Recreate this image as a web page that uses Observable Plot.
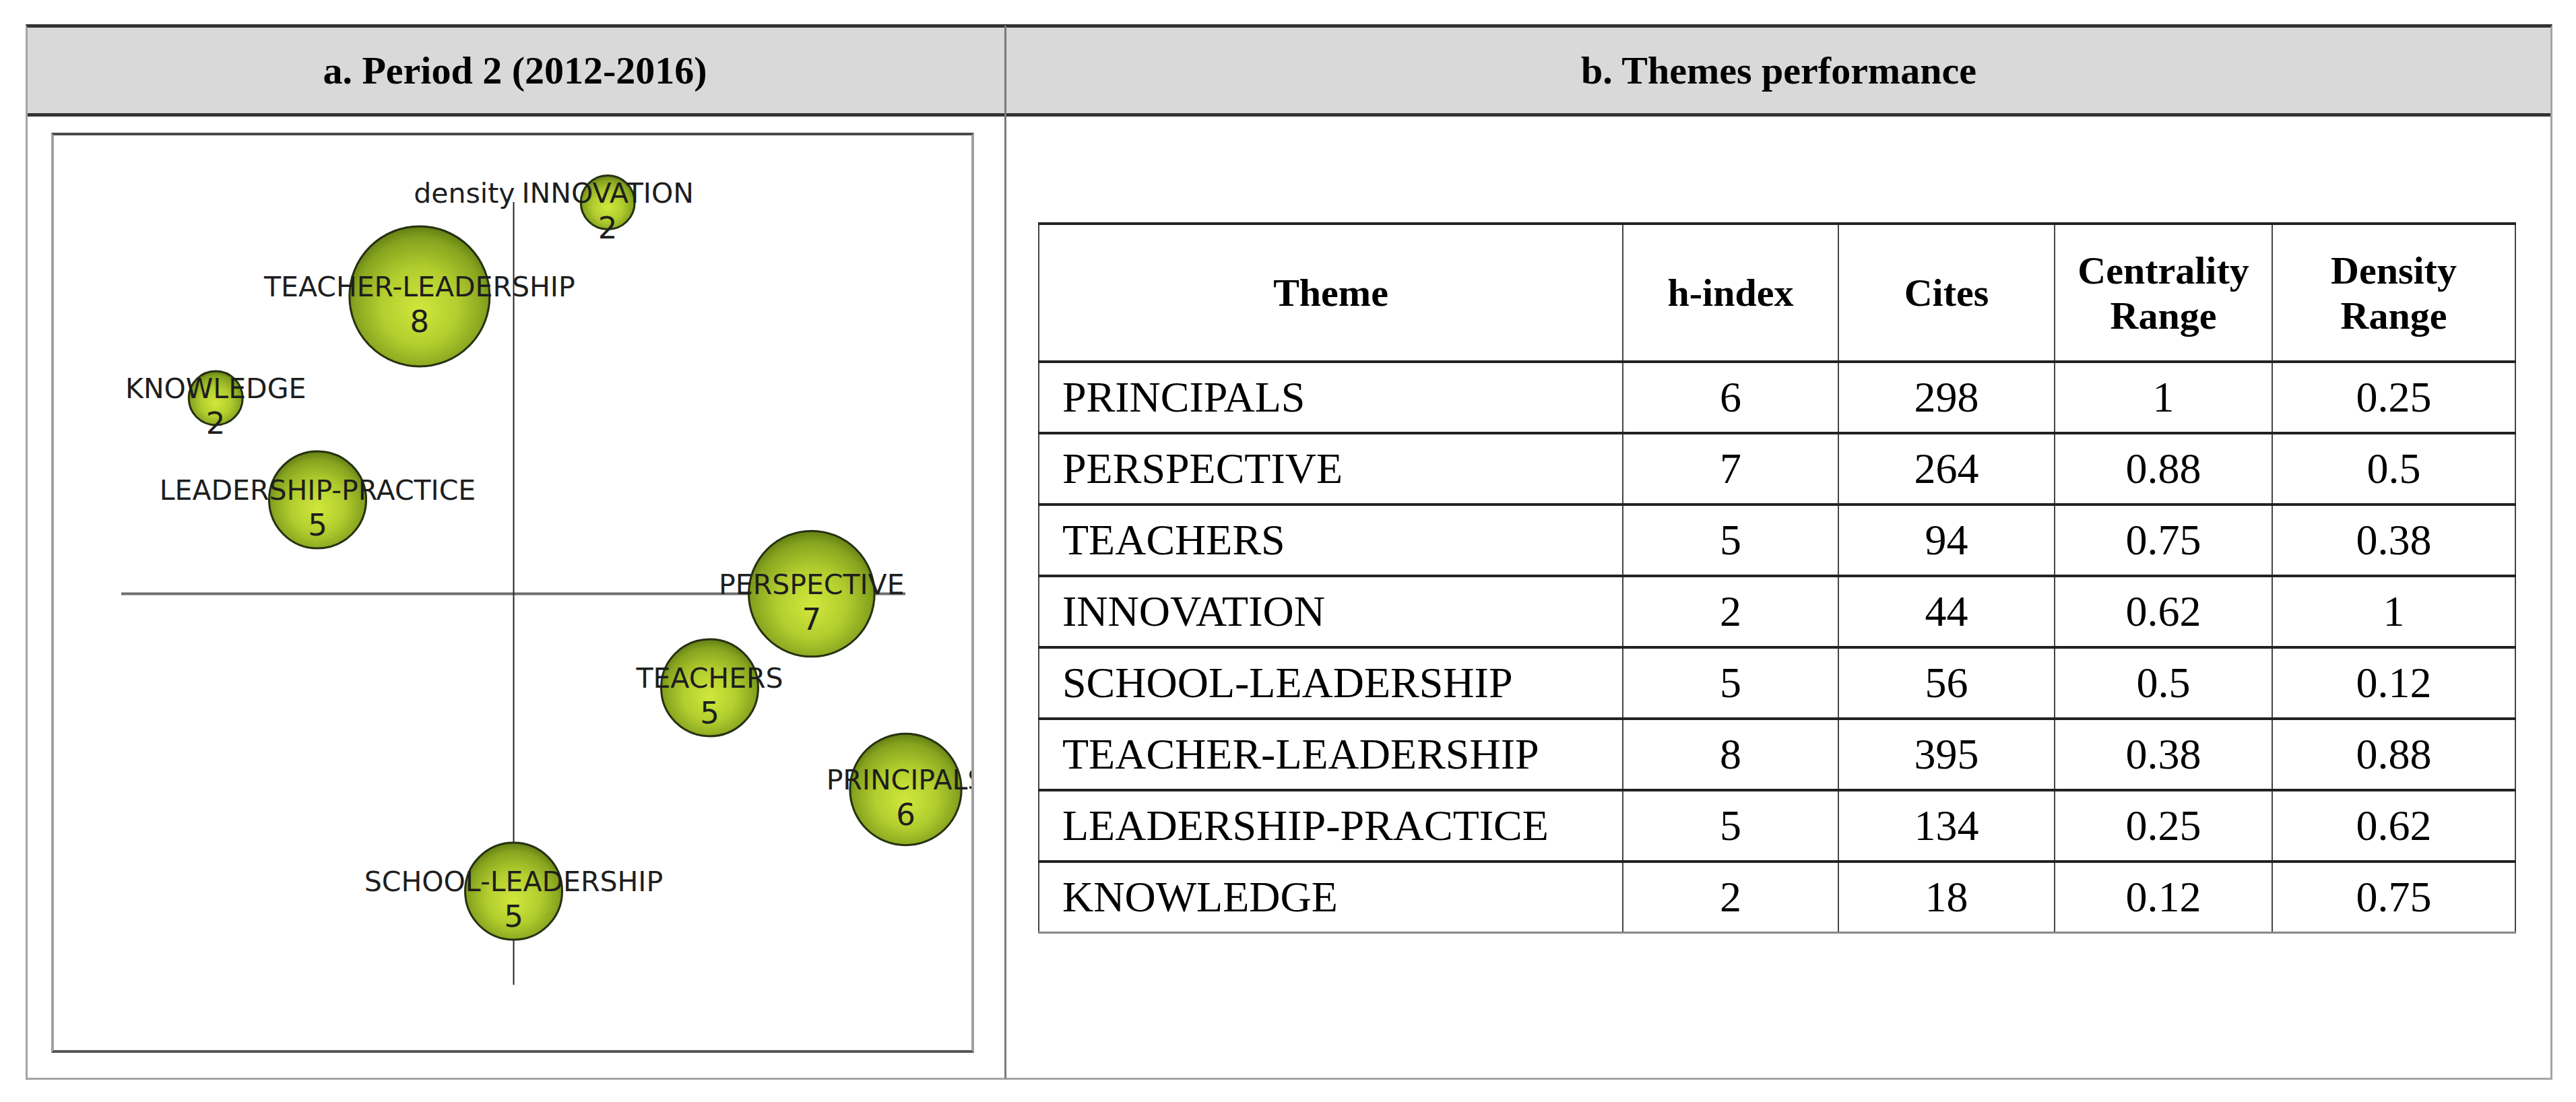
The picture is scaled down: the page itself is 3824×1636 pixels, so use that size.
<!DOCTYPE html>
<html><head><meta charset="utf-8">
<script src="https://cdn.jsdelivr.net/npm/d3@7"></script>
<script src="https://cdn.jsdelivr.net/npm/@observablehq/plot@0.6"></script>
<style>
html,body{margin:0;padding:0;background:#fff;}
body{width:3824px;height:1636px;position:relative;overflow:hidden;}
.abs{position:absolute;box-sizing:border-box;}
#band{left:38px;top:40px;width:3751px;height:133px;background:#d9d9d9;border-bottom:5px solid #333;}
#frame{left:38px;top:36px;width:3751px;height:1567px;border:3px solid #a4a4a4;border-top:5px solid #333;}
#divider{left:1491px;top:38px;width:3px;height:1563px;background:#7a7a7a;}
.ptitle{font-family:"Liberation Serif","Times New Roman",serif;font-weight:bold;font-size:58px;top:40px;height:128px;display:flex;align-items:center;justify-content:center;color:#000;}
#box{left:76px;top:197px;width:1370px;height:1366px;border-top:4px solid #4a4a4a;border-bottom:4px solid #555;border-left:4px solid #a0a0a0;border-right:4px solid #a0a0a0;background:#fff;overflow:hidden;}
#tablewrap{left:1541px;top:330px;}
table{border-collapse:collapse;table-layout:fixed;font-family:"Liberation Serif","Times New Roman",serif;color:#000;}
th,td{padding:0;border-left:2px solid #444;border-right:2px solid #444;border-top:4px solid #222;border-bottom:4px solid #222;}
th{font-weight:bold;font-size:58px;height:201px;text-align:center;white-space:pre-line;line-height:67px;vertical-align:middle;}
td{font-size:64px;height:102px;text-align:center;vertical-align:middle;}
td.first{text-align:left;padding-left:34px;}
tr:last-child td{border-bottom:3px solid #888;}
</style>
</head><body>
<div id="band" class="abs"></div>
<div id="frame" class="abs"></div>
<div id="divider" class="abs"></div>
<div class="abs ptitle" style="left:38px;width:1453px;">a. Period 2 (2012-2016)</div>
<div class="abs ptitle" style="left:1494px;width:2293px;">b. Themes performance</div>
<div id="box" class="abs"></div>
<div id="tablewrap" class="abs"></div>
<script>
// ---- data ----
const themes = ["PRINCIPALS","PERSPECTIVE","TEACHERS","INNOVATION","SCHOOL-LEADERSHIP","TEACHER-LEADERSHIP","LEADERSHIP-PRACTICE","KNOWLEDGE"];
const hIndex = [6,7,5,2,5,8,5,2];
const cites = [298,264,94,44,56,395,134,18];
const centrality = [1,0.88,0.75,0.62,0.5,0.38,0.25,0.12];
const density = [0.25,0.5,0.38,1,0.12,0.88,0.62,0.75];
const columns = ["Theme","h-index","Cites","Centrality\nRange","Density\nRange"];
const columnWidths = [867,320,321,323,361];
const axisLabel = "density";

const data = themes.map((t,i)=>({theme:t,h:hIndex[i],cites:cites[i],c:centrality[i],d:density[i]}));

// ---- strategic diagram ----
const font = "DejaVu Sans, Verdana, sans-serif";
const chart = Plot.plot({
  width:1362, height:1358,
  marginLeft:100, marginRight:98, marginTop:99, marginBottom:97,
  x:{domain:[0,1], axis:null},
  y:{domain:[0,1], axis:null},
  r:{type:"linear", domain:[2,8], range:[40,104]},
  style:{background:"#fff", overflow:"hidden", fontFamily:font},
  marks:[
    Plot.ruleY([0.5], {x1:0, x2:1, stroke:"#6e6e6e", strokeWidth:4}),
    Plot.ruleX([0.5], {y1:0, y2:1, stroke:"#222", strokeWidth:2}),
    Plot.dot(data, {x:"c", y:"d", r:"h", fill:"url(#bubbleGrad)", stroke:"#263010", strokeWidth:3}),
    Plot.text([axisLabel], {x:()=>0.5, y:()=>1, text:d=>d, textAnchor:"end", dx:2, dy:-13, fontSize:41, fill:"#1e1e1e", fontFamily:font}),
    Plot.text(data, {x:"c", y:"d", text:"theme", dy:-13, fontSize:41, fill:"#1e1e1e", fontFamily:font}),
    Plot.text(data, {x:"c", y:"d", text:d=>String(d.h), dy:39, fontSize:45, fill:"#1e1e1e", fontFamily:font})
  ]
});
const NS = "http://www.w3.org/2000/svg";
const defs = document.createElementNS(NS,"defs");
const grad = document.createElementNS(NS,"radialGradient");
grad.setAttribute("id","bubbleGrad");
grad.setAttribute("cx","0.5"); grad.setAttribute("cy","0.55"); grad.setAttribute("r","0.55");
grad.setAttribute("fx","0.5"); grad.setAttribute("fy","0.6");
[["0","#d0e83c"],["0.5","#b2cd2e"],["0.85","#87a41f"],["1","#627e14"]].forEach(([o,c])=>{
  const s=document.createElementNS(NS,"stop"); s.setAttribute("offset",o); s.setAttribute("stop-color",c); grad.appendChild(s);
});
defs.appendChild(grad);
chart.insertBefore(defs, chart.firstChild);
chart.style.overflow = "hidden";
chart.style.display = "block";
document.getElementById("box").appendChild(chart);

// ---- table ----
const table = document.createElement("table");
const cg = document.createElement("colgroup");
columnWidths.forEach(w=>{const c=document.createElement("col"); c.style.width=w+"px"; cg.appendChild(c);});
table.appendChild(cg);
table.style.width = d3.sum(columnWidths)+"px";
const thead = document.createElement("tr");
columns.forEach(c=>{const th=document.createElement("th"); th.textContent=c; thead.appendChild(th);});
table.appendChild(thead);
data.forEach(r=>{
  const tr=document.createElement("tr");
  [r.theme, r.h, r.cites, r.c, r.d].forEach((v,j)=>{
    const td=document.createElement("td"); td.textContent=String(v); if(j===0) td.className="first"; tr.appendChild(td);
  });
  table.appendChild(tr);
});
document.getElementById("tablewrap").appendChild(table);
</script>
</body></html>
